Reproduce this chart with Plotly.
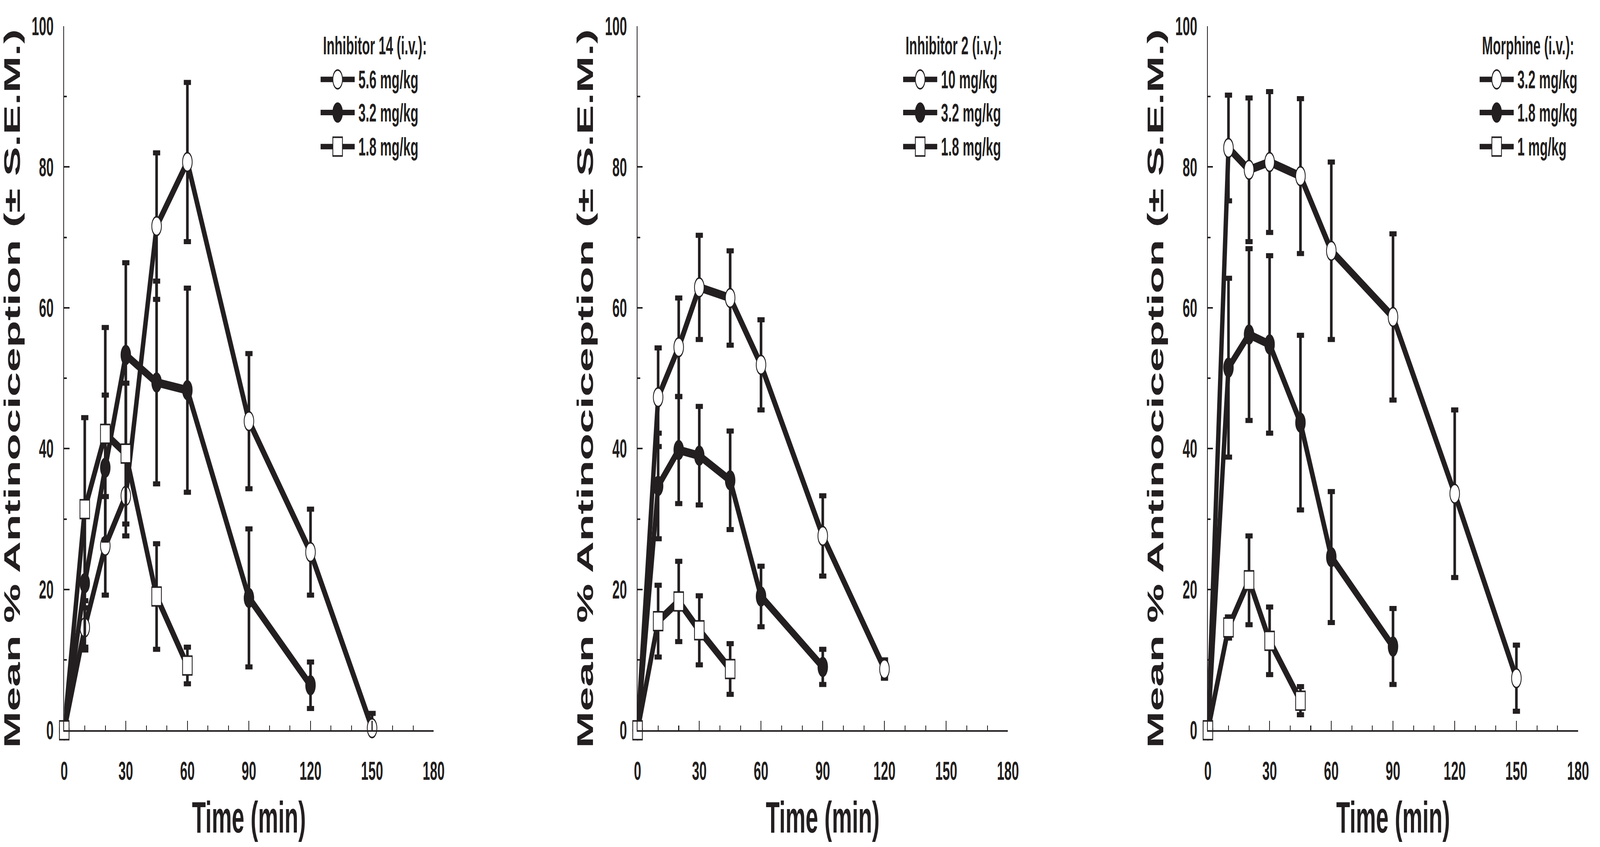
import plotly.graph_objects as go

# ---- data ----
t_inh14_56 = [0, 10, 20, 30, 45, 60, 90, 120, 150]
inh14_56 = [0, 14.6, 26.2, 33.3, 71.6, 80.7, 43.9, 25.3, 0.3]
inh14_56_err = [0, 2.8, 7.0, 5.7, 10.4, 11.3, 9.6, 6.1, 2.1]

t_inh14_32 = [0, 10, 20, 30, 45, 60, 90, 120]
inh14_32 = [0, 20.9, 37.3, 53.3, 49.4, 48.3, 18.8, 6.4]
inh14_32_err = [0, 9.5, 10.3, 13.1, 14.4, 14.5, 9.8, 3.3]

t_inh14_18 = [0, 10, 20, 30, 45, 60]
inh14_18 = [0, 31.4, 42.1, 39.3, 19.0, 9.2]
inh14_18_err = [0, 13.0, 15.1, 10.0, 7.5, 2.6]

t_inh2_10 = [0, 10, 20, 30, 45, 60, 90, 120]
inh2_10 = [0, 47.3, 54.4, 62.9, 61.4, 51.9, 27.6, 8.7]
inh2_10_err = [0, 7.0, 7.0, 7.4, 6.7, 6.4, 5.7, 1.3]

t_inh2_32 = [0, 10, 20, 30, 45, 60, 90]
inh2_32 = [0, 34.7, 39.8, 39.0, 35.5, 19.0, 9.0]
inh2_32_err = [0, 7.5, 7.6, 7.0, 7.0, 4.3, 2.5]

t_inh2_18 = [0, 10, 20, 30, 45]
inh2_18 = [0, 15.5, 18.3, 14.2, 8.7]
inh2_18_err = [0, 5.1, 5.7, 4.9, 3.6]

t_mor_32 = [0, 10, 20, 30, 45, 60, 90, 120, 150]
mor_32 = [0, 82.7, 79.6, 80.7, 78.7, 68.1, 58.7, 33.6, 7.4]
mor_32_err = [0, 7.5, 10.2, 10.0, 11.0, 12.6, 11.8, 11.9, 4.7]

t_mor_18 = [0, 10, 20, 30, 45, 60, 90]
mor_18 = [0, 51.5, 56.2, 54.8, 43.7, 24.6, 11.9]
mor_18_err = [0, 12.7, 12.2, 12.6, 12.4, 9.3, 5.4]

t_mor_1 = [0, 10, 20, 30, 45]
mor_1 = [0, 14.6, 21.3, 12.7, 4.2]
mor_1_err = [0, 1.5, 6.3, 4.8, 2.0]

legend_titles = ['Inhibitor 14 (i.v.):', 'Inhibitor 2 (i.v.):', 'Morphine (i.v.):']
legend_labels = [
    ['5.6 mg/kg', '3.2 mg/kg', '1.8 mg/kg'],
    ['10 mg/kg', '3.2 mg/kg', '1.8 mg/kg'],
    ['3.2 mg/kg', '1.8 mg/kg', '1 mg/kg'],
]
x_ticks = [0, 30, 60, 90, 120, 150, 180]
y_ticks = [0, 20, 40, 60, 80, 100]

panels = [
    [(t_inh14_56, inh14_56, inh14_56_err), (t_inh14_32, inh14_32, inh14_32_err), (t_inh14_18, inh14_18, inh14_18_err)],
    [(t_inh2_10, inh2_10, inh2_10_err), (t_inh2_32, inh2_32, inh2_32_err), (t_inh2_18, inh2_18, inh2_18_err)],
    [(t_mor_32, mor_32, mor_32_err), (t_mor_18, mor_18, mor_18_err), (t_mor_1, mor_1, mor_1_err)],
]

# ---- style ----
INK = '#231f20'
FONT = 'Liberation Sans'
W, H = 8000, 2168
x_px = [(306, 2170), (3199, 5068), (6077, 7945)]
y_top, y_bot = 31, 1897
legend_x0 = [0.694, 0.717, 0.734]   # legend line start, fraction of x domain
legend_rows = [0.9244, 0.8773, 0.829]

symbols = [('circle', 'white'), ('circle', INK), ('square', 'white')]

fig = go.Figure()
annotations = []
shapes = []

for p, series in enumerate(panels):
    sfx = '' if p == 0 else str(p + 1)
    xref, yref = 'x' + sfx, 'y' + sfx
    for (tt, vals, err), (sym, fill) in zip(series, symbols):
        fig.add_trace(go.Scatter(
            x=tt, y=vals, xaxis=xref, yaxis=yref,
            mode='lines+markers',
            line=dict(color=INK, width=22),
            marker=dict(symbol=sym, size=48, color=fill, line=dict(color=INK, width=4)),
            error_y=dict(type='data', array=err, visible=True, color=INK, thickness=13, width=18),
            cliponaxis=False, showlegend=False, hoverinfo='skip',
        ))

    x0, x1 = x_px[p]
    axis_font = dict(family=FONT, size=66, color=INK, weight='bold')
    fig.update_layout(**{
        'xaxis' + sfx: dict(
            domain=[x0 / W, x1 / W], anchor=yref, range=[0, 180],
            tickvals=x_ticks, ticks='inside', ticklen=25, tickwidth=4, tickcolor=INK,
            minor=dict(dtick=10, ticks='inside', ticklen=13, tickwidth=4, tickcolor=INK),
            showline=True, linewidth=3.5, linecolor=INK, showgrid=False, zeroline=False,
            tickfont=axis_font, ticklabelstandoff=44, ticklabeloverflow='allow', fixedrange=True,
        ),
        'yaxis' + sfx: dict(
            domain=[(H - y_bot) / H, (H - y_top) / H], anchor=xref, range=[0, 100],
            tickvals=y_ticks, ticks='inside', ticklen=26, tickwidth=4, tickcolor=INK,
            minor=dict(dtick=10, ticks='inside', ticklen=14, tickwidth=4, tickcolor=INK),
            showline=True, linewidth=3.5, linecolor=INK, showgrid=False, zeroline=False,
            tickfont=axis_font, ticklabelstandoff=36, ticklabeloverflow='allow', fixedrange=True,
        ),
    })

    # axis titles
    annotations.append(dict(
        text='Mean % Antinociception (± S.E.M.)', textangle=-90,
        xref=xref + ' domain', yref=yref + ' domain', x=-0.141, y=0.4855,
        xanchor='center', yanchor='middle', showarrow=False,
        font=dict(family=FONT, size=113, color=INK, weight='bold'),
    ))
    annotations.append(dict(
        text='Time (min)', xref=xref + ' domain', yref='paper', x=0.5, y=(H - 2128) / H,
        xanchor='center', yanchor='middle', showarrow=False,
        font=dict(family=FONT, size=113, color=INK, weight='bold'),
    ))

    # hand-drawn legend
    lx = legend_x0[p]
    dom_w = x1 - x0
    annotations.append(dict(
        text=legend_titles[p], xref=xref + ' domain', yref=yref + ' domain',
        x=lx + 10 / dom_w, y=0.9727, xanchor='left', yanchor='middle', showarrow=False,
        font=dict(family=FONT, size=65, color=INK, weight='bold'),
    ))
    for r, ((sym, fill), lab) in enumerate(zip(symbols, legend_labels[p])):
        yy = legend_rows[r]
        shapes.append(dict(
            type='line', xref=xref + ' domain', yref=yref + ' domain',
            x0=lx, x1=lx + 172 / dom_w, y0=yy, y1=yy, line=dict(color=INK, width=14),
        ))
        cx = lx + 86 / dom_w
        shapes.append(dict(
            type='circle' if sym == 'circle' else 'rect',
            xref=xref + ' domain', yref=yref + ' domain',
            xsizemode='pixel', ysizemode='pixel', xanchor=cx, yanchor=yy,
            x0=-24, x1=24, y0=-24, y1=24,
            fillcolor=fill, line=dict(color=INK, width=4),
        ))
        annotations.append(dict(
            text=lab, xref=xref + ' domain', yref=yref + ' domain',
            x=lx + 189 / dom_w, y=yy, xanchor='left', yanchor='middle', showarrow=False,
            font=dict(family=FONT, size=65, color=INK, weight='bold'),
        ))

fig.update_layout(
    width=W, height=H, margin=dict(l=0, r=0, t=0, b=0),
    paper_bgcolor='white', plot_bgcolor='white',
    annotations=annotations, shapes=shapes, showlegend=False,
)

# the browser window may be narrower than the 8000 px canvas: fit the page to it
fit_js = """
document.body.style.margin = '0';
document.body.style.overflow = 'hidden';
var gd = document.getElementById('{plot_id}');
var sx = Math.min(1, window.innerWidth / %d), sy = Math.min(1, window.innerHeight / %d);
gd.style.transformOrigin = '0 0';
gd.style.transform = 'scale(' + sx + ',' + sy + ')';
""" % (W, H)

fig.write_html('out.html', post_script=fit_js, config={'displayModeBar': False})
